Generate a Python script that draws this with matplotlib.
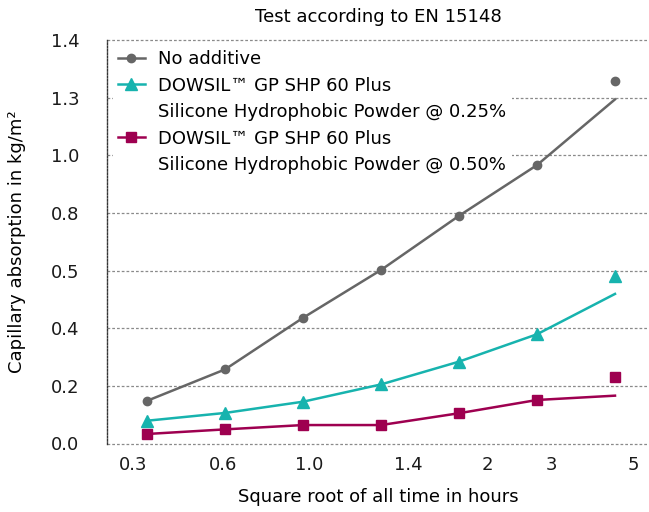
import matplotlib.pyplot as plt
from matplotlib.lines import Line2D

# --- data ---
time_labels = ["0.3", "0.6", "1.0", "1.4", "2", "3", "5"]
y_labels = ["0.0", "0.2", "0.4", "0.5", "0.8", "1.0", "1.3", "1.4"]

no_additive = [0.148, 0.257, 0.436, 0.602, 0.790, 0.966, 1.194]
no_additive_last = 1.258
shp_025 = [0.079, 0.106, 0.145, 0.205, 0.284, 0.379, 0.519]
shp_025_last = 0.581
shp_050 = [0.033, 0.049, 0.064, 0.064, 0.105, 0.151, 0.166]
shp_050_last = 0.230

series = [
    ("No additive", no_additive, no_additive_last, "#666666", "o", 6),
    ("DOWSIL\u2122 GP SHP 60 Plus", shp_025, shp_025_last, "#17b3ae", "^", 9),
    ("DOWSIL\u2122 GP SHP 60 Plus", shp_050, shp_050_last, "#9e0050", "s", 7.5),
]
second_lines = ["Silicone Hydrophobic Powder @ 0.25%",
                "Silicone Hydrophobic Powder @ 0.50%"]

# layout: where tick labels sit along the point index axis
xtick_pos = [-0.18, 0.97, 2.08, 3.35, 4.37, 5.19, 6.23]
ytick_pos = [0.0, 0.2, 0.4, 0.6, 0.8, 1.0, 1.2, 1.4]

plt.rcParams["font.family"] = "DejaVu Sans"
plt.rcParams["font.size"] = 13

fig = plt.figure(figsize=(6.49, 5.12), dpi=100)
ax = fig.add_axes([107 / 649, 68.5 / 512, 542 / 649, 403.5 / 512])

x = list(range(len(no_additive)))
handles = []
for label, vals, last, color, marker, ms in series:
    line, = ax.plot(x, vals, color=color, lw=1.8, marker=marker, ms=ms,
                    markevery=list(range(len(vals) - 1)), zorder=3)
    ax.plot([x[-1]], [last], color=color, marker=marker, ms=ms,
            linestyle="none", zorder=3)
    handles.append((line, label))

ax.set_xlim(-0.513, 6.436)
ax.set_ylim(0, 1.4)
ax.set_xticks(xtick_pos)
ax.set_xticklabels(time_labels)
ax.set_yticks(ytick_pos)
ax.set_yticklabels(y_labels)
ax.tick_params(length=0, colors="#1a1a1a", labelsize=13)
ax.tick_params(axis="y", pad=20)
ax.tick_params(axis="x", pad=9)

for side in ["top", "right", "bottom"]:
    ax.spines[side].set_visible(False)
ax.spines["left"].set_linestyle((0, (1.2, 1.2)))
ax.spines["left"].set_color("#333333")
ax.spines["left"].set_linewidth(1.0)

ax.grid(axis="y", color="#8a8a8a", linestyle=(0, (2.2, 1.6)), lw=0.9)
for gl in ax.get_ygridlines():
    gl.set_clip_on(False)
ax.set_axisbelow(True)

ax.set_title("Test according to EN 15148", fontsize=13, pad=13)
ax.set_xlabel("Square root of all time in hours", labelpad=10)
ax.set_ylabel("Capillary absorption in kg/m\u00b2", labelpad=18)

blank = Line2D([], [], color="none")
leg_handles = [handles[0][0], handles[1][0], blank, handles[2][0], blank]
leg_labels = [handles[0][1], handles[1][1], second_lines[0],
              handles[2][1], second_lines[1]]
leg = ax.legend(leg_handles, leg_labels, loc="upper left",
                bbox_to_anchor=(0.011, 0.988), borderaxespad=0,
                borderpad=0.3, handlelength=1.45, handletextpad=0.75,
                labelspacing=0.47, frameon=True, fancybox=False,
                facecolor="white", edgecolor="none", framealpha=1)
leg.set_zorder(5)

fig.savefig("out.png", dpi=100)
